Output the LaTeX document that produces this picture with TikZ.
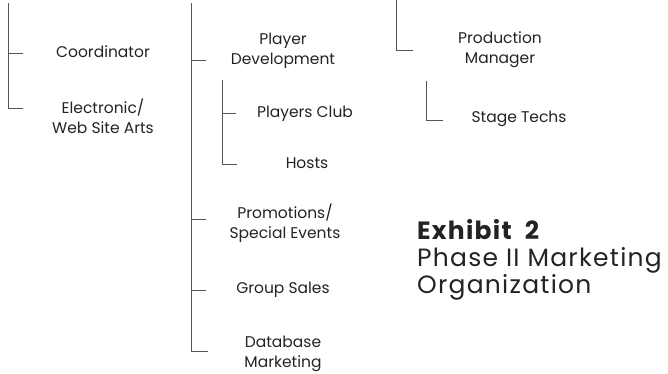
\documentclass[tikz,border=0pt]{standalone}
\usepackage{fontspec}
\setmainfont{Poppins}
\usepackage{xcolor}
\usetikzlibrary{positioning}
\definecolor{orgline}{RGB}{85,85,85}
\definecolor{orgtext}{RGB}{35,35,35}

\begin{document}
\begin{tikzpicture}[
    x=1pt, y=-1pt,
    unit/.style={font=\fontsize{15.5}{20}\selectfont, text=orgtext, align=center, inner sep=0pt},
    bracket/.style={draw=orgline, line width=0.9pt}
]
    \useasboundingbox (0,0) rectangle (668,374);

    % Left branch
    \coordinate (l-top) at (8,3);
    \coordinate (l-1) at (8,53);
    \coordinate (l-2) at (8,108);
    \node[unit] (coord) at (103,52) {Coordinator};
    \node[unit] (web) at (103,116) {Electronic/\\Web Site Arts};
    \draw[bracket] (l-top) -- (l-2) -- ++(15,0);
    \draw[bracket] (l-1) -- ++(15,0);

    % Middle branch
    \coordinate (m-top) at (191,3);
    \coordinate (m-1) at (191,60);
    \coordinate (m-2) at (191,219);
    \coordinate (m-3) at (191,290);
    \coordinate (m-4) at (191,351);
    \node[unit] (playdev) at (283,51) {Player\\Development};
    \node[unit] (promo) at (285,223) {Promotions/\\Special Events};
    \node[unit] (group) at (283,290) {Group Sales};
    \node[unit] (dbmkt) at (283,354) {Database\\Marketing};
    \draw[bracket] (m-top) -- (m-4) -- ++(17,0);
    \foreach \c in {m-1, m-2, m-3}
        \draw[bracket] (\c) -- ++(15,0);

    % Player development sub-branch
    \coordinate (p-top) at (222,80);
    \coordinate (p-1) at (222,113);
    \coordinate (p-2) at (222,164);
    \node[unit] (club) at (305,114) {Players Club};
    \node[unit] (hosts) at (307,163) {Hosts};
    \draw[bracket] (p-top) -- (p-2) -- ++(15,0);
    \draw[bracket] (p-1) -- ++(14,0);

    % Right branch
    \coordinate (r-top) at (396,0);
    \coordinate (r-1) at (396,50);
    \coordinate (s-top) at (426,81);
    \coordinate (s-1) at (426,120);
    \node[unit] (prodmgr) at (500,50) {Production\\Manager};
    \node[unit] (stage) at (519,119) {Stage Techs};
    \draw[bracket] (r-top) -- (r-1) -- ++(17,0);
    \draw[bracket] (s-top) -- (s-1) -- ++(17,0);

    % Caption
    \node[font=\fontsize{25}{27}\selectfont\addfontfeature{LetterSpace=5}, text=orgtext, align=left, inner sep=0pt, anchor=west]
        (caption) at (417,260) {\textbf{Exhibit~~2}\\Phase II Marketing\\Organization};
\end{tikzpicture}
\end{document}
